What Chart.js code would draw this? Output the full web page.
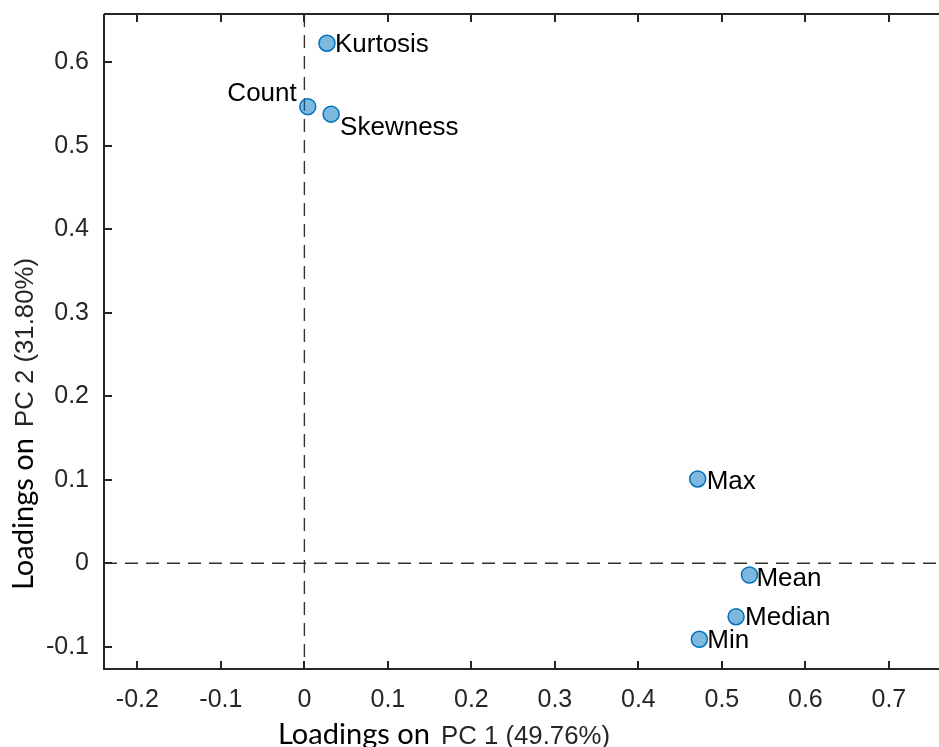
<!DOCTYPE html>
<html>
<head>
<meta charset="utf-8">
<script src="https://cdn.jsdelivr.net/npm/chart.js@4/dist/chart.umd.min.js"></script>
<style>
  html, body { margin: 0; padding: 0; background: #fff; }
  canvas { display: block; }
</style>
</head>
<body>
<canvas id="grafica" width="939" height="747"></canvas>
<script>
// Datos
const variables = ['Kurtosis', 'Count', 'Skewness', 'Max', 'Mean', 'Median', 'Min'];
const pc1 = [0.027, 0.004, 0.032, 0.471, 0.533, 0.517, 0.473];
const pc2 = [0.623, 0.547, 0.538, 0.101, -0.014, -0.064, -0.091];
const xTicks = [-0.2, -0.1, 0, 0.1, 0.2, 0.3, 0.4, 0.5, 0.6, 0.7];
const yTicks = [-0.1, 0, 0.1, 0.2, 0.3, 0.4, 0.5, 0.6];
const xTitle = ['Loadings on', 'PC 1 (49.76%)'];
const yTitle = ['Loadings on', 'PC 2 (31.80%)'];

// Donde va cada etiqueta respecto a su punto (dx, dy, alineacion)
const etiquetaPos = {
  Kurtosis: [8, 2, 'left'],
  Count: [-11, -13, 'right'],
  Skewness: [9, 14, 'left'],
  Max: [9, 3, 'left'],
  Mean: [7, 4, 'left'],
  Median: [9, 1, 'left'],
  Min: [8, 2, 'left']
};

const ejeColor = '#262626';
const fuente = '"Liberation Sans", Arial, sans-serif';

// Formato de las marcas: 0 en vez de 0.0
function formatoTick(v) {
  return String(Math.round(v * 10) / 10);
}

// Ajusta el tamano de la fuente al ancho que tiene el texto en la figura
function fuenteAjustada(ctx, texto, familia, ancho) {
  ctx.font = '20px ' + familia;
  const w = ctx.measureText(texto).width;
  return (20 * ancho / w).toFixed(2) + 'px ' + familia;
}

const marco = {
  id: 'marco',
  beforeDatasetsDraw(chart) {
    const { ctx, chartArea: a, scales: { x, y } } = chart;
    const x0 = x.getPixelForValue(0);
    const y0 = y.getPixelForValue(0);
    ctx.save();
    ctx.strokeStyle = '#333';
    ctx.lineWidth = 1.4;
    ctx.setLineDash([13, 8]);
    ctx.beginPath();
    ctx.moveTo(x0, a.top);
    ctx.lineTo(x0, a.bottom);
    ctx.moveTo(a.left, y0);
    ctx.lineTo(a.right, y0);
    ctx.stroke();
    ctx.restore();
  },
  afterDraw(chart) {
    const { ctx, chartArea: a, scales: { x, y } } = chart;
    const largo = 8;
    ctx.save();
    ctx.strokeStyle = ejeColor;
    ctx.lineWidth = 2;
    ctx.beginPath();
    ctx.moveTo(a.left, a.top);
    ctx.lineTo(a.left, a.bottom);
    ctx.lineTo(a.right, a.bottom);
    ctx.moveTo(a.left, a.top);
    ctx.lineTo(a.right, a.top);
    // marcas hacia adentro
    xTicks.forEach(v => {
      const px = Math.round(x.getPixelForValue(v));
      ctx.moveTo(px, a.bottom);
      ctx.lineTo(px, a.bottom - largo);
      ctx.moveTo(px, a.top);
      ctx.lineTo(px, a.top + largo);
    });
    yTicks.forEach(v => {
      const py = Math.round(y.getPixelForValue(v));
      ctx.moveTo(a.left, py);
      ctx.lineTo(a.left + largo, py);
    });
    ctx.stroke();

    // etiquetas de los puntos
    ctx.fillStyle = '#000';
    ctx.font = '26px ' + fuente;
    ctx.textBaseline = 'middle';
    variables.forEach((nombre, i) => {
      const p = etiquetaPos[nombre];
      ctx.textAlign = p[2];
      ctx.fillText(nombre, x.getPixelForValue(pc1[i]) + p[0], y.getPixelForValue(pc2[i]) + p[1]);
    });

    // titulos de los ejes (dos fuentes como en el original)
    const calibri = 'Lato, "Open Sans", sans-serif';
    ctx.textAlign = 'left';
    ctx.textBaseline = 'alphabetic';
    ctx.fillStyle = '#000';
    ctx.font = fuenteAjustada(ctx, xTitle[0], calibri, 152);
    ctx.fillText(xTitle[0], 278, 744);
    ctx.fillStyle = ejeColor;
    ctx.font = fuenteAjustada(ctx, xTitle[1], fuente, 169);
    ctx.fillText(xTitle[1], 441, 744);

    ctx.translate(33, 590);
    ctx.rotate(-Math.PI / 2);
    ctx.fillStyle = '#000';
    ctx.font = fuenteAjustada(ctx, yTitle[0], calibri, 152);
    ctx.fillText(yTitle[0], 0, 0);
    ctx.fillStyle = ejeColor;
    ctx.font = fuenteAjustada(ctx, yTitle[1], fuente, 169);
    ctx.fillText(yTitle[1], 163, 0);
    ctx.restore();
  }
};

const puntos = variables.map((n, i) => ({ x: pc1[i], y: pc2[i] }));

new Chart(document.getElementById('grafica'), {
  type: 'scatter',
  data: {
    datasets: [{
      label: 'Loadings',
      data: puntos,
      pointRadius: 8,
      pointBackgroundColor: 'rgba(0, 114, 189, 0.5)',
      pointBorderColor: '#0072BD',
      pointBorderWidth: 1.5
    }]
  },
  options: {
    responsive: false,
    animation: false,
    layout: { autoPadding: false, padding: { top: 14, right: 0, left: 0, bottom: 0 } },
    plugins: {
      legend: { display: false },
      tooltip: { enabled: false }
    },
    scales: {
      x: {
        type: 'linear',
        min: -0.24,
        max: 0.76,
        grid: { display: false, drawTicks: false },
        border: { display: false },
        afterBuildTicks: s => { s.ticks = xTicks.map(v => ({ value: v })); },
        afterFit: s => {
          s.height = 78;
          s.paddingLeft = 0;
          s.paddingRight = 0;
        },
        ticks: {
          color: ejeColor,
          font: { family: fuente, size: 25 },
          padding: 16,
          maxRotation: 0,
          callback: v => formatoTick(v)
        }
      },
      y: {
        type: 'linear',
        min: -0.1266,
        max: 0.658,
        grid: { display: false, drawTicks: false },
        border: { display: false },
        afterBuildTicks: s => { s.ticks = yTicks.map(v => ({ value: v })); },
        afterFit: s => {
          s.width = 104;
          s.paddingTop = 0;
          s.paddingBottom = 0;
        },
        ticks: {
          color: ejeColor,
          font: { family: fuente, size: 25 },
          padding: 15,
          callback: v => formatoTick(v)
        }
      }
    }
  },
  plugins: [marco]
});
</script>
</body>
</html>
